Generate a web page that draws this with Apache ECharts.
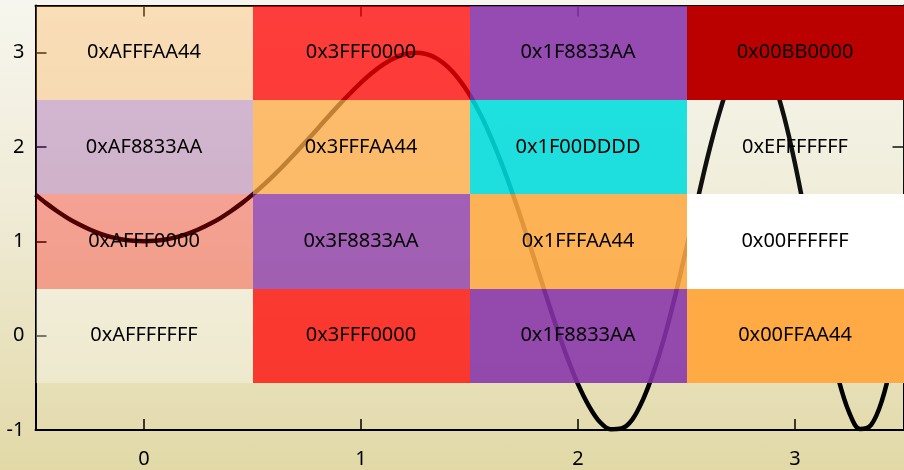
<!DOCTYPE html>
<html>
<head>
<meta charset="utf-8">
<script src="https://cdn.jsdelivr.net/npm/echarts@6/dist/echarts.min.js"></script>
<style>
html,body{margin:0;padding:0;}
#chart{width:904px;height:470px;background:linear-gradient(to bottom,#f7f6ee 0%,#efebd6 45%,#e2d9a7 100%);}
</style>
</head>
<body>
<div id="chart"></div>
<script>
// ---- data ----
var xTicks = [0, 1, 2, 3];
var yTicks = [-1, 0, 1, 2, 3];
// cell codes (ARGB, alpha 00 = opaque, FF = transparent), rows y=0..3, columns x=0..3
var row0 = ['0xAFFFFFFF', '0x3FFF0000', '0x1F8833AA', '0x00FFAA44'];
var row1 = ['0xAFFF0000', '0x3F8833AA', '0x1FFFAA44', '0x00FFFFFF'];
var row2 = ['0xAF8833AA', '0x3FFFAA44', '0x1F00DDDD', '0xEFFFFFFF'];
var row3 = ['0xAFFFAA44', '0x3FFF0000', '0x1F8833AA', '0x00BB0000'];
var cellRows = [row0, row1, row2, row3];

// curve
var curveX = [-0.50,-0.45,-0.40,-0.35,-0.30,-0.25,-0.20,-0.15,-0.10,-0.05,
  0.00,0.05,0.10,0.15,0.20,0.25,0.30,0.35,0.40,0.45,
  0.50,0.55,0.60,0.65,0.70,0.75,0.80,0.85,0.90,0.95,
  1.00,1.05,1.10,1.15,1.20,1.25,1.30,1.35,1.40,1.45,
  1.50,1.55,1.60,1.65,1.70,1.75,1.80,1.85,1.90,1.95,
  2.00,2.05,2.10,2.15,2.20,2.25,2.30,2.35,2.40,2.45,
  2.50,2.55,2.60,2.65,2.70,2.75,2.80,2.85,2.90,2.95,
  3.00,3.05,3.10,3.15,3.20,3.25,3.30,3.35,3.40,3.45,3.50];
var curveY = [1.495,1.402,1.319,1.244,1.180,1.125,1.080,1.045,1.020,1.005,
  1.000,1.005,1.020,1.045,1.080,1.125,1.180,1.244,1.319,1.402,
  1.495,1.596,1.705,1.820,1.941,2.067,2.194,2.323,2.449,2.570,
  2.683,2.785,2.871,2.939,2.983,3.000,2.986,2.937,2.850,2.723,
  2.556,2.347,2.097,1.814,1.497,1.158,0.803,0.446,0.096,-0.230,
  -0.514,-0.744,-0.913,-0.992,-0.983,-0.889,-0.675,-0.375,-0.002,0.443,
  0.934,1.430,1.919,2.349,2.701,2.923,3.000,2.928,2.699,2.321,
  1.824,1.244,0.632,0.043,-0.458,-0.816,-0.989,-0.948,-0.693,-0.235,0.375];

// ---- build ----
var cellData = [];
cellRows.forEach(function (row, yi) {
  row.forEach(function (code, xi) {
    cellData.push([xTicks[xi], yi, code]);
  });
});
var lineData = curveX.map(function (x, i) { return [x, curveY[i]]; });

var chart = echarts.init(document.getElementById('chart'), null, {renderer: 'canvas'});
var font = "'Noto Sans', 'Open Sans', sans-serif";
function axisBase() {
  return {
    type: 'value',
    axisLine: {show: true, onZero: false, lineStyle: {color: '#000', width: 2}},
    axisTick: {show: true, inside: true, length: 11, lineStyle: {color: '#000', width: 1.5}},
    splitLine: {show: false}
  };
}
var xb = axisBase();
xb.axisTick.customValues = xTicks;
var xt = axisBase();
xt.axisTick.customValues = xTicks;
chart.setOption({
  backgroundColor: 'transparent',
  animation: false,
  grid: {left: 35.5, right: 0.5, top: 5.5, bottom: 40, containLabel: false},
  xAxis: [
    Object.assign(xb, {
      position: 'bottom', min: -0.5, max: 3.5,
      axisLabel: {show: true, color: '#000', fontSize: 20, fontFamily: font, margin: 19,
        customValues: xTicks}
    }),
    Object.assign(xt, {
      position: 'top', min: -0.5, max: 3.5,
      axisLabel: {show: false}
    })
  ],
  yAxis: [
    Object.assign(axisBase(), {
      position: 'left', min: -1, max: 3.5, interval: 1,
      axisLabel: {show: true, color: '#000', fontSize: 20, fontFamily: font, margin: 11,
        formatter: function (v) { return yTicks.indexOf(v) >= 0 ? String(v) : ''; }}
    }),
    Object.assign(axisBase(), {
      position: 'right', min: -1, max: 3.5, interval: 1,
      axisLabel: {show: false}
    })
  ],
  series: [
    {
      type: 'line',
      xAxisIndex: 0, yAxisIndex: 0,
      data: lineData,
      smooth: 0.35,
      showSymbol: false,
      clip: true,
      z: 2,
      lineStyle: {color: '#000', width: 4.5}
    },
    {
      type: 'custom',
      xAxisIndex: 0, yAxisIndex: 0,
      data: cellData,
      z: 3,
      clip: false,
      renderItem: function (params, api) {
        var x = api.value(0), y = api.value(1);
        var code = cellData[params.dataIndex][2];
        var a = parseInt(code.slice(2, 4), 16);
        var opacity = 1 - a / 255;
        var rgb = '#' + code.slice(4);
        var p0 = api.coord([x - 0.5, y + 0.5]);
        var p1 = api.coord([x + 0.5, y - 0.5]);
        var x0 = Math.round(p0[0]), y0 = Math.round(p0[1]);
        var x1 = Math.round(p1[0]), y1 = Math.round(p1[1]);
        var c = api.coord([x, y]);
        return {
          type: 'group',
          children: [
            {type: 'rect', shape: {x: x0, y: y0, width: x1 - x0, height: y1 - y0},
             style: {fill: rgb, opacity: opacity}},
            {type: 'text', x: c[0], y: c[1],
             style: {text: code, fill: '#000', font: '20px ' + font, align: 'center', verticalAlign: 'middle'}}
          ]
        };
      }
    }
  ]
});
</script>
</body>
</html>
